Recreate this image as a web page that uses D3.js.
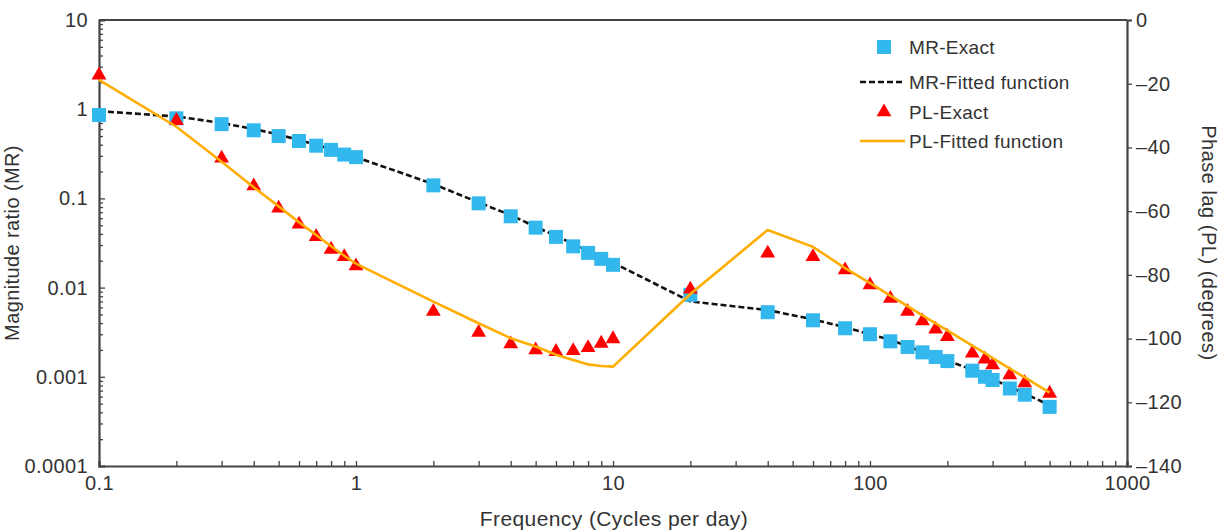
<!DOCTYPE html>
<html>
<head>
<meta charset="utf-8">
<script src="https://cdn.jsdelivr.net/npm/d3@7"></script>
<style>
  body { margin: 0; background: #fff; }
  text { font-family: "Liberation Sans", Arial, Helvetica, sans-serif; fill: #333; }
</style>
</head>
<body>
<div id="chart"></div>
<script>
// frequencies (cycles per day)
const freq = [0.1, 0.2, 0.3, 0.4, 0.5, 0.6, 0.7, 0.8, 0.9, 1, 2, 3, 4, 5, 6, 7, 8, 9, 10,
  20, 40, 60, 80, 100, 120, 140, 160, 180, 200, 250, 280, 300, 350, 400, 500];

const mrExact = [0.86, 0.79, 0.68, 0.58, 0.50, 0.44, 0.39, 0.35, 0.31, 0.29, 0.14, 0.088, 0.063, 0.047, 0.037, 0.029, 0.0245, 0.021, 0.018,
  0.0083, 0.0053, 0.0043, 0.0035, 0.0030, 0.0025, 0.00216, 0.00188, 0.00167, 0.0015, 0.00117, 0.0010, 0.00092, 0.00074, 0.00063, 0.00046];
const mrFitted = [0.95, 0.83, 0.70, 0.60, 0.52, 0.45, 0.40, 0.355, 0.32, 0.29, 0.145, 0.09, 0.065, 0.048, 0.038, 0.031, 0.026, 0.022, 0.019,
  0.0070, 0.0056, 0.0044, 0.0036, 0.0030, 0.0026, 0.0022, 0.0019, 0.0017, 0.00152, 0.0012, 0.00103, 0.00094, 0.00077, 0.00065, 0.00048];

const plExact = [-17.3, -31.6, -43.4, -52.1, -59.1, -64.1, -68.0, -72.0, -74.3, -77.2, -91.5, -98.1, -101.7, -103.6, -104.1, -103.8, -102.9, -101.5, -100.1,
  -84.5, -73.2, -74.3, -78.5, -83.2, -87.4, -91.5, -94.5, -97.1, -99.4, -104.6, -106.5, -108.3, -111.4, -113.9, -117.2];
const plFitted = [-18.8, -33.5, -44.5, -52.5, -58.5, -63.5, -67.5, -71.0, -74.0, -76.5, -88.4, -95.2, -99.9, -102.5, -105.1, -106.7, -108.1, -108.6, -108.8,
  -86.0, -65.9, -71.2, -77.9, -82.6, -86.5, -89.8, -92.7, -95.2, -97.4, -102.2, -104.6, -106.1, -109.4, -112.2, -117.0];

const xTicks = [0.1, 1, 10, 100, 1000];
const xTickLabels = ["0.1", "1", "10", "100", "1000"];
const yLeftTicks = [10, 1, 0.1, 0.01, 0.001, 0.0001];
const yLeftLabels = ["10", "1", "0.1", "0.01", "0.001", "0.0001"];
const yRightTicks = [0, -20, -40, -60, -80, -100, -120, -140];
const yRightLabels = ["0", "\u201320", "\u201340", "\u201360", "\u201380", "\u2013100", "\u2013120", "\u2013140"];

const legendItems = ["MR-Exact", "MR-Fitted function", "PL-Exact", "PL-Fitted function"];

const W = 1225, H = 532;
const margin = { top: 20, right: 98, bottom: 66, left: 99 },
    width = W - margin.left - margin.right,
    height = H - margin.top - margin.bottom;

const svg = d3.select("#chart")
    .append("svg")
    .attr("width", W)
    .attr("height", H)
    .append("g")
    .attr("transform", `translate(${margin.left},${margin.top})`);

const x = d3.scaleLog().domain([0.1, 1000]).range([0, width]);
const yL = d3.scaleLog().domain([0.0001, 10]).range([height, 0]);
const yR = d3.scaleLinear().domain([-140, 0]).range([height, 0]);

const axisColor = "#444";
const fontSize = "20px";

// minor tick values for log axes
const minorX = [];
[0.1, 1, 10, 100].forEach(d => { for (let k = 2; k <= 9; k++) minorX.push(d * k); });
const minorY = [];
[0.0001, 0.001, 0.01, 0.1, 1].forEach(d => { for (let k = 2; k <= 9; k++) minorY.push(d * k); });

// bottom axis (ticks inward)
svg.append("g")
    .attr("transform", `translate(0,${height})`)
    .call(d3.axisBottom(x).tickValues(xTicks).tickSize(-5).tickPadding(10)
        .tickFormat((d, i) => xTickLabels[i]));
svg.append("g")
    .attr("transform", `translate(0,${height})`)
    .call(d3.axisBottom(x).tickValues(minorX).tickSize(-5).tickFormat(""))
    .select(".domain").remove();

// left axis (ticks inward)
svg.append("g")
    .call(d3.axisLeft(yL).tickValues(yLeftTicks).tickSize(-6).tickPadding(11)
        .tickFormat((d, i) => yLeftLabels[i]));
svg.append("g")
    .call(d3.axisLeft(yL).tickValues(minorY).tickSize(-4).tickFormat(""))
    .select(".domain").remove();

// right axis (ticks outward)
svg.append("g")
    .attr("transform", `translate(${width},0)`)
    .call(d3.axisRight(yR).tickValues(yRightTicks).tickSize(5).tickPadding(4)
        .tickFormat((d, i) => yRightLabels[i]));

// top frame line
svg.append("line")
    .attr("x1", 0).attr("x2", width).attr("y1", 0).attr("y2", 0)
    .attr("stroke", axisColor).attr("stroke-width", 2.2);

svg.selectAll(".domain").attr("stroke", axisColor).attr("stroke-width", 2.2);
svg.selectAll(".tick line").attr("stroke", axisColor).attr("stroke-width", 1.3);
svg.selectAll(".tick text").style("font-size", fontSize).style("letter-spacing", "0.4px").attr("fill", "#333");

// axis titles
svg.append("text")
    .attr("x", width / 2 + 1).attr("y", height + 60)
    .attr("text-anchor", "middle")
    .style("font-size", "21px")
    .style("letter-spacing", "0.4px")
    .text("Frequency (Cycles per day)");
svg.append("text")
    .attr("transform", `translate(${-80},${height / 2}) rotate(-90)`)
    .attr("text-anchor", "middle")
    .style("font-size", fontSize)
    .style("letter-spacing", "0.4px")
    .text("Magnitude ratio (MR)");
svg.append("text")
    .attr("transform", `translate(${width + 75},${height / 2}) rotate(90)`)
    .attr("text-anchor", "middle")
    .style("font-size", fontSize)
    .style("letter-spacing", "0.5px")
    .text("Phase lag (PL) (degrees)");

const mrData = freq.map((f, i) => ({ f, exact: mrExact[i], fit: mrFitted[i] }));
const plData = freq.map((f, i) => ({ f, exact: plExact[i], fit: plFitted[i] }));

const blue = "#33b8ee", red = "#ff0000", orange = "#ffad00";
const sq = 14;
const tri = d3.symbol().type(d3.symbolTriangle).size(95);

// MR fitted (dashed)
svg.append("path")
    .datum(mrData)
    .attr("fill", "none")
    .attr("stroke", "#111")
    .attr("stroke-width", 2.6)
    .attr("stroke-dasharray", "6,3")
    .attr("d", d3.line().x(d => x(d.f)).y(d => yL(d.fit)));

// MR exact squares
svg.selectAll("rect.mr")
    .data(mrData)
    .join("rect")
    .attr("class", "mr")
    .attr("x", d => x(d.f) - sq / 2)
    .attr("y", d => yL(d.exact) - sq / 2)
    .attr("width", sq)
    .attr("height", sq)
    .attr("fill", blue);

// PL exact triangles
svg.selectAll("path.pl")
    .data(plData)
    .join("path")
    .attr("class", "pl")
    .attr("transform", d => `translate(${x(d.f)},${yR(d.exact)})`)
    .attr("d", tri)
    .attr("fill", red);

// PL fitted line
svg.append("path")
    .datum(plData)
    .attr("fill", "none")
    .attr("stroke", orange)
    .attr("stroke-width", 2.6)
    .attr("d", d3.line().x(d => x(d.f)).y(d => yR(d.fit)));

// legend
const lg = svg.append("g").attr("transform", `translate(${760},${27})`);
const rowY = [0, 35, 65, 94];
lg.append("rect").attr("x", 18).attr("y", rowY[0] - 7).attr("width", sq).attr("height", sq).attr("fill", blue);
lg.append("line").attr("x1", 1).attr("x2", 46).attr("y1", rowY[1]).attr("y2", rowY[1])
    .attr("stroke", "#111").attr("stroke-width", 2.6).attr("stroke-dasharray", "6,3");
lg.append("path").attr("transform", `translate(25,${rowY[2]})`).attr("d", tri).attr("fill", red);
lg.append("line").attr("x1", 1).attr("x2", 46).attr("y1", rowY[3]).attr("y2", rowY[3])
    .attr("stroke", orange).attr("stroke-width", 2.6);
lg.selectAll("text.leg")
    .data(legendItems)
    .join("text")
    .attr("class", "leg")
    .attr("x", 50)
    .attr("y", (d, i) => rowY[i])
    .attr("dy", "0.35em")
    .style("font-size", "19px")
    .style("letter-spacing", "0.3px")
    .text(d => d);
</script>
</body>
</html>
